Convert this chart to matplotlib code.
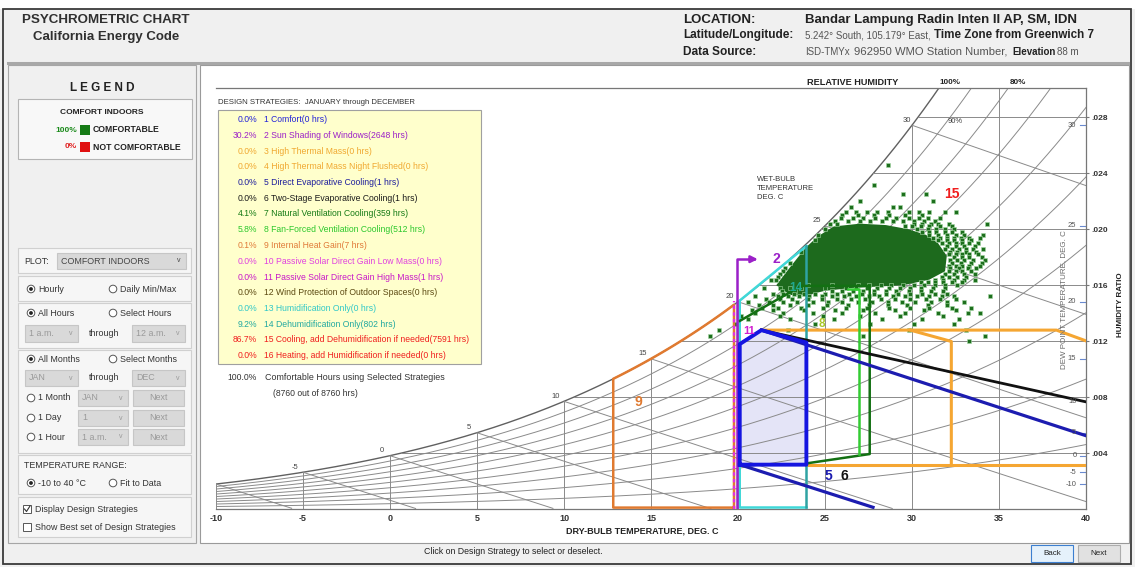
import numpy as np
import matplotlib
matplotlib.use('Agg')
import matplotlib.pyplot as plt
from matplotlib.patches import Rectangle, Circle

plt.rcParams['font.family'] = ['Liberation Sans', 'DejaVu Sans']
plt.rcParams['axes.unicode_minus'] = False

# ---- station / summary --------------------------------------------------
elevation = 88          # m
total_hours = 8760
comfortable_hours = 8760

strategy_names = ['Comfort', 'Sun Shading of Windows', 'High Thermal Mass',
                  'High Thermal Mass Night Flushed', 'Direct Evaporative Cooling',
                  'Two-Stage Evaporative Cooling', 'Natural Ventilation Cooling',
                  'Fan-Forced Ventilation Cooling', 'Internal Heat Gain',
                  'Passive Solar Direct Gain Low Mass', 'Passive Solar Direct Gain High Mass',
                  'Wind Protection of Outdoor Spaces', 'Humidification Only',
                  'Dehumidification Only', 'Cooling, add Dehumidification if needed',
                  'Heating, add Humidification if needed']
strategy_hours = [0, 2648, 0, 0, 1, 1, 359, 512, 7, 0, 1, 0, 0, 802, 7591, 0]
strategy_colors = ['#2323d8', '#9b20c8', '#f0a830', '#f0a830', '#1c1c9c', '#1a1a1a',
                   '#157a15', '#2cc82c', '#e07a38', '#e040e0', '#c818c8', '#5c4a12',
                   '#30c8c8', '#20a8a0', '#f01e1e', '#f01e1e']

# ---- strategy zones (dry bulb C, humidity ratio kg/kg) ------------------
comfort_t = [20.1, 20.1, 21.35, 23.93, 23.93]
comfort_w = [0.00317, 0.01179, 0.01279, 0.0119, 0.00317]
evap_upper_t, evap_upper_w = [21.35, 40.0], [0.01279, 0.00524]
evap_lower_t, evap_lower_w = [20.1, 27.76], [0.00317, 0.00012]
two_stage_t, two_stage_w = [21.35, 40.0], [0.01279, 0.00766]
natvent_t = [20.1, 23.64, 27.57, 27.57, 23.93]
natvent_w = [0.01345, 0.01595, 0.01595, 0.00393, 0.00326]
fan_t, fan_w = [26.3, 26.98, 26.98], [0.0157, 0.0157, 0.0039]
mass_t, mass_w = [29.9, 32.26, 32.26], [0.01279, 0.01198, 0.00316]
flush_t, flush_w = [21.35, 38.3, 40.0], [0.01279, 0.01279, 0.01202]
mass_floor_t, mass_floor_w = [23.93, 40.0], [0.00316, 0.00316]
heat_gain_left, heat_gain_right = 12.83, 19.77
shading_t, shading_w = [19.95, 19.95, 20.9], [0.0, 0.01786, 0.01786]
solar_t, solar_w = [19.75, 19.75], [0.0, 0.0149]
dehum_t = [23.93, 20.1, 20.1, 23.93, 23.93]
dehum_w = [0.0188, 0.0149, 0.00016, 0.00016, 0.0188]

# ---- outdoor hourly conditions ------------------------------------------
# densest part of the hourly cloud
core_t = [22.2, 23.0, 23.9, 24.6, 25.5, 27.0, 28.5, 29.8, 30.8, 31.5, 32.0, 31.9,
          31.0, 29.5, 28.0, 26.5, 25.0, 24.0, 23.0]
core_w = [0.0160, 0.0173, 0.0187, 0.0195, 0.0202, 0.0204, 0.0203, 0.0200, 0.0196,
          0.0190, 0.0181, 0.0170, 0.0164, 0.0160, 0.0159, 0.0158, 0.0156, 0.0153, 0.0153]
# individual hours around it, one row per humidity ratio
hour_rows_w = [0.0246, 0.0232, 0.0225, 0.0220, 0.0216, 0.0212, 0.0210, 0.0208, 0.0206,
               0.0204, 0.0202, 0.0200, 0.0198, 0.0196, 0.0194, 0.0192, 0.0190, 0.0188,
               0.0186, 0.0184, 0.0182, 0.0180, 0.0178, 0.0176, 0.0174, 0.0172, 0.0170,
               0.0168, 0.0166, 0.0164, 0.0162, 0.0160, 0.0158, 0.0156, 0.0154, 0.0152,
               0.0150, 0.0148, 0.0146, 0.0144, 0.0142, 0.0140, 0.0138, 0.0136, 0.0132,
               0.0128, 0.0124, 0.0120]
hour_rows_t = [
    [28.6],
    [27.8],
    [29.5, 30.8],
    [27.0, 31.2],
    [26.5, 28.9, 29.3],
    [26.2, 26.8, 27.4, 28.0, 28.6, 29.8, 30.4, 31.0, 31.9, 32.5],
    [26.0, 26.9, 27.8, 28.7, 29.6, 30.6],
    [25.9, 26.6, 27.2, 27.9, 28.5, 29.1, 29.8, 30.4, 30.9, 31.6],
    [25.6, 26.3, 27.0, 27.6, 28.3, 28.9, 29.5, 30.1, 30.7, 31.3],
    [25.3, 25.7, 30.1, 30.6, 31.1, 31.5, 32.1, 34.3],
    [29.6, 30.0, 30.5, 31.0, 31.6, 32.3],
    [25.0, 30.3, 30.9, 31.4, 31.9, 32.4],
    [30.6, 31.0, 31.4, 31.9, 32.3, 32.9],
    [24.6, 31.0, 31.5, 32.0, 32.5, 33.0, 34.1],
    [31.2, 31.6, 32.0, 32.4, 32.8, 33.3, 33.9],
    [24.4, 31.5, 32.0, 32.4, 32.9, 33.4],
    [31.7, 32.1, 32.5, 32.9, 33.3, 33.8],
    [32.0, 32.5, 33.0, 33.6],
    [31.9, 32.3, 32.7, 33.1, 33.5, 34.1],
    [23.6, 32.2, 32.6, 33.1, 33.7],
    [32.1, 32.5, 32.9, 33.3, 33.8],
    [32.4, 32.9, 33.3, 34.0],
    [32.2, 32.6, 33.0, 33.5, 34.2],
    [23.0, 32.3, 32.8, 33.4, 34.0],
    [32.1, 32.5, 32.9, 33.3, 33.9],
    [22.7, 32.2, 32.7, 33.2, 33.7],
    [22.6, 32.1, 32.5, 32.9, 33.4],
    [22.4, 31.9, 32.4, 33.0, 33.6],
    [22.3, 31.7, 32.1, 32.6, 33.1],
    [21.9, 22.2, 31.3, 31.8, 32.4, 33.0, 33.6],
    [30.5, 30.9, 31.3, 31.8, 32.3, 32.9],
    [24.0, 25.4, 26.9, 27.5, 28.2, 28.8, 29.5, 30.1, 30.7, 31.3, 31.9, 32.6],
    [21.5, 22.4, 23.0, 23.6, 25.0, 26.2, 26.8, 27.4, 28.0, 28.7, 29.3, 29.9, 30.5, 31.2,
     31.9],
    [22.5, 23.3, 25.4, 26.0, 26.6, 27.2, 27.8, 28.5, 29.1, 29.8, 30.5, 31.1, 31.8],
    [22.0, 22.6, 23.2, 23.8, 24.4, 25.0, 25.7, 26.4, 27.1, 27.8, 28.5, 29.2, 29.9, 30.6,
     31.3, 32.0],
    [21.0, 22.3, 22.9, 23.5, 24.1, 24.8, 25.4, 26.1, 26.8, 27.5, 28.1, 28.9, 29.6, 30.3,
     31.0, 31.7, 32.4, 34.5],
    [21.6, 22.4, 23.1, 24.0, 24.8, 25.7, 26.5, 27.3, 28.2, 29.0, 29.9, 30.8, 31.6, 32.5],
    [20.6, 21.8, 22.6, 23.4, 24.3, 25.2, 26.0, 26.9, 27.7, 28.6, 29.4, 30.2, 31.1, 32.0,
     33.0],
    [21.2, 22.0, 23.0, 24.0, 25.1, 26.3, 27.5, 28.6, 29.7, 30.9, 32.0],
    [21.4, 22.3, 23.6, 24.9, 26.2, 27.4, 28.7, 29.9, 31.0, 32.3, 33.4],
    [20.8, 22.0, 23.8, 25.6, 27.2, 29.0, 30.7, 32.5],
    [21.0, 22.6, 24.3, 26.0, 27.9, 29.6, 31.5, 33.2, 33.9],
    [20.2, 22.4, 24.9, 27.0, 29.3, 31.8],
    [20.6, 23.0, 25.5, 28.3, 30.6, 32.7],
    [19.8, 24.4, 27.6, 30.1, 32.4],
    [18.9, 22.9, 29.8, 33.1],
    [18.4, 27.2, 34.2],
    [33.3],
]

dew_ticks = [-10, -5, 0, 5, 10, 15, 20, 25, 30]
wetbulb_labels = [-5, 0, 5, 10, 15, 20, 25, 30]
rh_levels = [0.1, 0.2, 0.3, 0.4, 0.5, 0.6, 0.7, 0.8, 0.9]
w_lines = [0.004, 0.008, 0.012, 0.016, 0.020, 0.024, 0.028]
dry_bulb_ticks = list(range(-10, 45, 5))

# ---- psychrometrics ------------------------------------------------------
P = 101.325 * (1 - 2.25577e-5 * elevation) ** 5.2559


def p_ws(t):
    return 0.61094 * np.exp(17.625 * t / (t + 243.04))


def w_from_pw(pw):
    return 0.621945 * pw / (P - pw)


def w_sat(t):
    return w_from_pw(p_ws(t))


def t_sat(w):
    pw = w * P / (0.621945 + w)
    a = np.log(pw / 0.61094)
    return 243.04 * a / (17.625 - a)


def w_wetbulb(t, twb):
    ws = w_sat(twb)
    return ((2501 - 2.326 * twb) * ws - 1.006 * (t - twb)) / (2501 + 1.86 * t - 4.186 * twb)


W_TOP = 0.0301
GRID = '#8a8a8a'

fig = plt.figure(figsize=(11.35, 5.67), dpi=100, facecolor='#f0f0f0')
renderer = fig.canvas.get_renderer()

# ---- window furniture (pixel coordinates) --------------------------------
ui = fig.add_axes([0, 0, 1, 1], zorder=0)
ui.set_xlim(0, 1135)
ui.set_ylim(567, 0)
ui.axis('off')


def rect(x0, y0, x1, y1, fc, ec, lw=0.8):
    ui.add_patch(Rectangle((x0, y0), x1 - x0, y1 - y0, facecolor=fc, edgecolor=ec, lw=lw))


def label(x, y, s, size=6.4, color='#333333', weight='normal', ha='left', **kw):
    return ui.text(x, y, s, fontsize=size, color=color, fontweight=weight, ha=ha,
                   va='center', **kw)


def fitted(x, y, s, width, weight='normal', color='#333333'):
    # header text sized to span a given pixel width
    txt = label(x, y, s, size=8, weight=weight, color=color)
    txt.set_fontsize(8 * width / txt.get_window_extent(renderer).width)
    return txt


def radio(x, y, text, on):
    ui.add_patch(Circle((x, y), 3.8, facecolor='white', edgecolor='#555555', lw=0.7))
    if on:
        ui.add_patch(Circle((x, y), 1.9, facecolor='#222222', edgecolor='none'))
    label(x + 7, y, text)


def combo(x0, y0, x1, y1, text, color='#9a9a9a'):
    rect(x0, y0, x1, y1, '#d9d9d9', '#c6c6c6')
    label(x0 + 4, (y0 + y1) / 2, text, color=color)
    label(x1 - 7, (y0 + y1) / 2, 'v', color=color, size=5, ha='center')


def button(x0, y0, x1, y1, text):
    rect(x0, y0, x1, y1, '#d9d9d9', '#c6c6c6')
    label((x0 + x1) / 2, (y0 + y1) / 2, text, color='#9a9a9a', ha='center')


def checkbox(x, y, text, on):
    rect(x - 4, y - 4, x + 4, y + 4, 'white', '#555555', lw=0.7)
    if on:
        ui.plot([x - 2.5, x - 0.5, x + 3], [y, y + 2.5, y - 3], color='#333333', lw=0.8)
    label(x + 8, y, text)


rect(0, 0, 1135, 9, 'white', 'none')
rect(3, 9, 1131, 564, '#f0f0f0', '#3a3a3a', lw=1.3)
ui.plot([8, 1128], [62.5, 62.5], color='#a8a8a8', lw=2.2)

label(22, 20, 'PSYCHROMETRIC CHART', size=9.6, weight='bold', color='#303030')
label(33, 37, 'California Energy Code', size=9.5, weight='bold', color='#303030')

label(683, 20, 'LOCATION:', size=9.5, weight='bold', color='#222222')
label(805, 20, 'Bandar Lampung Radin Inten II AP, SM, IDN', size=9.5, weight='bold',
      color='#222222')
fitted(683, 35, 'Latitude/Longitude:', 110, weight='bold', color='#222222')
label(805, 35, '5.242° South, 105.179° East,', size=7, color='#555555')
label(934, 35, 'Time Zone from Greenwich 7', size=8.4, weight='bold', color='#222222')
fitted(683, 52, 'Data Source:', 74, weight='bold', color='#222222')
label(805, 52, 'ISD-TMYx', size=7, color='#555555')
fitted(854, 52, '962950 WMO Station Number,', 154, color='#555555')
label(1012, 52, 'Elevation', size=7, weight='bold', color='#222222')
label(1057, 52, f'{elevation} m', size=7, color='#555555')

# left control column
rect(8, 65, 196, 543, '#f0f0f0', '#a6a6a6')
label(102, 88, 'L E G E N D', size=8.5, weight='bold', color='#222222', ha='center')
rect(18, 99, 192, 159, '#f8f8f8', '#b4b4b4')
label(102, 113, 'COMFORT INDOORS', size=6, weight='bold', color='#222222', ha='center')
label(77, 130, f'{comfortable_hours / total_hours * 100:.0f}%', size=6, weight='bold',
      color='#1a8a1a', ha='right')
rect(80, 125, 90, 135, '#157a15', 'none')
label(93, 130, 'COMFORTABLE', size=6.2, weight='bold', color='#222222')
label(77, 147, f'{(total_hours - comfortable_hours) / total_hours * 100:.0f}%', size=6,
      weight='bold', color='#e02020', ha='right')
rect(80, 142, 90, 152, '#e01010', 'none')
label(93, 147, 'NOT COMFORTABLE', size=6.2, weight='bold', color='#222222')

for y0, y1 in [(248, 273), (276, 301), (303, 348), (350, 453), (455, 494), (497, 537)]:
    rect(18, y0, 191, y1, '#f6f6f6', '#d0d0d0')

label(24, 261, 'PLOT:')
combo(57, 253, 186, 269, 'COMFORT INDOORS', color='#444444')
radio(31, 289, 'Hourly', True)
radio(113, 289, 'Daily Min/Max', False)
radio(31, 313, 'All Hours', True)
radio(113, 313, 'Select Hours', False)
combo(25, 325, 78, 342, '1 a.m.')
label(104, 333, 'through', ha='center')
combo(132, 325, 185, 342, '12 a.m.')
radio(31, 359, 'All Months', True)
radio(113, 359, 'Select Months', False)
combo(25, 370, 78, 386, 'JAN')
label(104, 378, 'through', ha='center')
combo(132, 370, 185, 386, 'DEC')
for y, txt, val in [(398, '1 Month', 'JAN'), (418, '1 Day', '1'), (437, '1 Hour', '1 a.m.')]:
    radio(31, y, txt, False)
    combo(78, y - 8, 128, y + 8, val)
    button(133, y - 8, 184, y + 8, 'Next')
label(24, 465, 'TEMPERATURE RANGE:')
radio(31, 483, '-10 to 40 °C', True)
radio(113, 483, 'Fit to Data', False)
checkbox(27, 509, 'Display Design Strategies', True)
checkbox(27, 527, 'Show Best set of Design Strategies', False)

# chart panel and strategy list
rect(200, 65, 1129, 543, 'white', '#9a9a9a')
label(218, 103, 'DESIGN STRATEGIES:  JANUARY through DECEMBER', size=5.6, color='#333333',
      family=['Liberation Sans Narrow', 'Liberation Sans'])
rect(218, 110, 481, 364, '#ffffcc', '#a0a0a0')
for i, (name, hrs, col) in enumerate(zip(strategy_names, strategy_hours, strategy_colors)):
    y = 119.5 + i * 15.75
    label(257, y, f'{hrs / total_hours * 100:.1f}%', size=6.2, color=col, ha='right')
    label(264, y, f'{i + 1} {name}({hrs} hrs)', size=6.2, color=col)
label(257, 378, f'{comfortable_hours / total_hours * 100:.1f}%', size=6.2, ha='right')
label(265, 378, 'Comfortable Hours using Selected Strategies', size=6.4)
label(273, 393, f'({comfortable_hours} out of {total_hours} hrs)', size=6.2)

label(642, 531, 'DRY-BULB TEMPERATURE, DEG. C', size=6.5, weight='bold', color='#222222',
      ha='center')
label(513, 552, 'Click on Design Strategy to select or deselect.', size=6.3, color='#222222',
      ha='center')
rect(1031, 545, 1073, 562, '#e5f1fb', '#3c7fd0')
label(1052, 553.5, 'Back', size=5.8, ha='center', color='#222222')
rect(1078, 545, 1120, 562, '#e1e1e1', '#adadad')
label(1099, 553.5, 'Next', size=5.8, ha='center', color='#222222')

# ---- psychrometric chart -----------------------------------------------
ax = fig.add_axes([216 / 1135, 1 - 509 / 567, 870 / 1135, 421 / 567], zorder=1)
ax.patch.set_alpha(0)
ax.set_xlim(-10, 40)
ax.set_ylim(0, W_TOP)

t = np.linspace(-10, 40, 1001)
ax.plot(t, w_sat(t), color='#606060', lw=1.0, zorder=1)
for rh in rh_levels:
    ax.plot(t, w_from_pw(rh * p_ws(t)), color=GRID, lw=0.7, zorder=1)
for twb in range(-10, 35, 5):
    tt = np.linspace(twb, 40, 300)
    ww = w_wetbulb(tt, twb)
    keep = ww >= 0
    ax.plot(tt[keep], ww[keep], color=GRID, lw=0.7, zorder=1)
for tv in dry_bulb_ticks:
    ax.plot([tv, tv], [0, min(w_sat(tv), W_TOP)], color=GRID, lw=0.7, zorder=1)
for wh in w_lines:
    ax.plot([t_sat(wh), 40], [wh, wh], color=GRID, lw=0.7, zorder=1)

# wet-bulb labels on the saturation curve
for twb in wetbulb_labels:
    dx = -5 if twb == 30 else -8
    ax.annotate(str(twb), (twb, w_sat(twb)), xytext=(dx, 5), textcoords='offset pixels',
                fontsize=5.5, color='#444444', ha='center', va='center', zorder=4)

# dew point scale on the right edge
for td in dew_ticks:
    wd = w_sat(td)
    ax.plot([39.65, 40], [wd, wd], color='#6a8ad0', lw=0.8, zorder=1)
    ax.text(39.45, wd, str(td), fontsize=5.5, color='#555555', ha='right', va='center', zorder=4)

# comfort zone and strategy boundaries
ax.fill(comfort_t, comfort_w, color='#e4e4f7', lw=0, zorder=0.5)

hour_t = [tv for row in hour_rows_t for tv in row]
hour_w = [wv for wv, row in zip(hour_rows_w, hour_rows_t) for _ in row]
ax.fill(core_t, core_w, color='#1d6a1d', lw=0, zorder=2)
ax.scatter(hour_t, hour_w, marker='s', s=9, c='#1d6f1d', edgecolors='#a5d8a5',
           linewidths=0.4, zorder=2)

hg_t = np.linspace(heat_gain_left, heat_gain_right, 60)
ax.plot(np.r_[heat_gain_right, heat_gain_left, hg_t, heat_gain_right],
        np.r_[0.0001, 0.0001, w_sat(hg_t), 0.0001], color='#e07a30', lw=1.8, zorder=3)
ax.plot(flush_t, flush_w, color='#f5a632', lw=2.2, zorder=3)
ax.plot(mass_t, mass_w, color='#f5a632', lw=2.2, zorder=3)
ax.plot(mass_floor_t, mass_floor_w, color='#f5a632', lw=2.2, zorder=3)
ax.plot(dehum_t[:3], dehum_w[:3], color='#40d8d8', lw=1.8, zorder=3)
ax.plot(dehum_t[2:4], dehum_w[2:4], color='#40d8d8', lw=1.8, zorder=3)
ax.plot(dehum_t[3:], dehum_w[3:], color='#2fa3a3', lw=1.8, zorder=3)
ax.plot(natvent_t, natvent_w, color='#137013', lw=1.8, zorder=3)
ax.plot(fan_t, fan_w, color='#33cc33', lw=1.8, zorder=3)
ax.plot(evap_upper_t, evap_upper_w, color='#1c1cb0', lw=2.3, zorder=3)
ax.plot(evap_lower_t, evap_lower_w, color='#1c1cb0', lw=2.3, zorder=3)
ax.plot(two_stage_t, two_stage_w, color='#111111', lw=2.0, zorder=3.1)
ax.plot(solar_t, solar_w, color='#e030e0', lw=1.6, ls=(0, (1.5, 1.5)), zorder=3.2)
ax.plot(shading_t, shading_w, color='#9b20c8', lw=1.8, zorder=3.2)
ax.annotate('', xy=(21.3, shading_w[-1]), xytext=(20.5, shading_w[-1]),
            arrowprops=dict(arrowstyle='-|>', color='#9b20c8', lw=1.8, mutation_scale=10),
            zorder=3.2)
ax.plot(comfort_t + comfort_t[:1], comfort_w + comfort_w[:1], color='#1515e0', lw=2.8,
        zorder=3.3)

zone_labels = [('2', 22.2, 0.0179, '#9b20c8', 10), ('5', 25.2, 0.00238, '#1c1cb0', 10),
               ('6', 26.1, 0.00238, '#111111', 10), ('8', 24.8, 0.0132, '#a8c828', 8.5),
               ('9', 14.25, 0.00762, '#e07a30', 10), ('11', 20.65, 0.0127, '#d020d0', 8),
               ('14', 23.3, 0.0158, '#20a890', 8.5), ('15', 32.3, 0.0225, '#f01e1e', 10)]
for txt, lx, ly, col, fs in zone_labels:
    ax.text(lx, ly, txt, color=col, fontsize=fs, fontweight='bold', ha='center', va='center',
            zorder=5)

ax.text(21.1, 0.0229, 'WET-BULB\nTEMPERATURE\nDEG. C', fontsize=5.5, color='#333333',
        ha='left', va='center', linespacing=1.45, zorder=4)
ax.text(32.5, 0.0277, '90%', fontsize=5.5, color='#444444', ha='center', va='center', zorder=4)
ax.text(26.6, 1.014, 'RELATIVE HUMIDITY', transform=ax.get_xaxis_transform(), fontsize=6.6,
        fontweight='bold', color='#222222', ha='center', va='center')
ax.text(32.2, 1.014, '100%', transform=ax.get_xaxis_transform(), fontsize=5.8,
        fontweight='bold', color='#222222', ha='center', va='center')
ax.text(36.1, 1.014, '80%', transform=ax.get_xaxis_transform(), fontsize=5.8,
        fontweight='bold', color='#222222', ha='center', va='center')
ax.text(38.7, 0.0150, 'DEW POINT TEMPERATURE, DEG. C', rotation=90, fontsize=5.8,
        color='#6a6a6a', ha='center', va='center', zorder=4)
ax.text(1.04, 0.0146, 'HUMIDITY RATIO', rotation=90, transform=ax.get_yaxis_transform(),
        fontsize=5.8, fontweight='bold', color='#222222', ha='center', va='center')

ax.set_xticks(dry_bulb_ticks)
ax.set_xticklabels([str(v) for v in dry_bulb_ticks], fontsize=6.5, fontweight='bold',
                   color='#333333')
ax.tick_params(axis='x', length=0, pad=3.5)
ax.yaxis.tick_right()
ax.set_yticks(w_lines)
ax.set_yticklabels([f'{v:.3f}'[1:] for v in w_lines], fontsize=6, fontweight='bold',
                   color='#333333')
ax.tick_params(axis='y', length=2, pad=2, color='#777777')
ax.spines['left'].set_visible(False)
for side in ['top', 'right', 'bottom']:
    ax.spines[side].set_color('#777777')
    ax.spines[side].set_linewidth(0.9)

fig.savefig('out.png', dpi=100, facecolor=fig.get_facecolor())
